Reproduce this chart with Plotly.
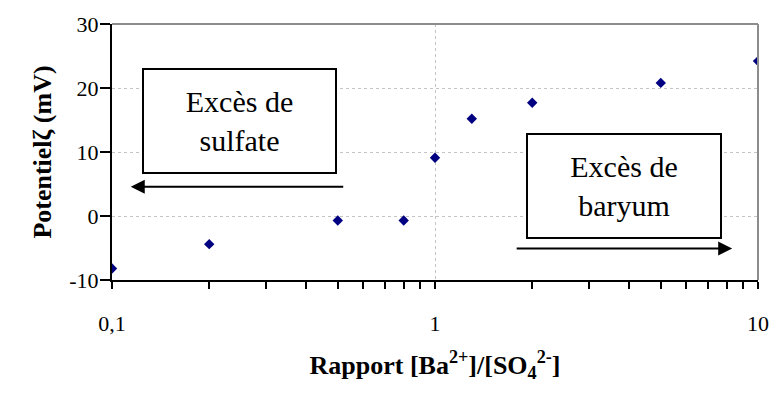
import plotly.graph_objects as go

# Zeta potential versus the barium / sulfate ratio
ratio = [0.1, 0.2, 0.5, 0.8, 1.0, 1.3, 2.0, 5.0, 10.0]
zeta_mv = [-8.2, -4.4, -0.7, -0.7, 9.1, 15.2, 17.7, 20.8, 24.2]

# Log-axis ticks: decades are labelled, the digits in between are minor ticks
x_major_vals = [0.1, 1, 10]
x_major_text = ["0,1", "1", "10"]
x_minor_vals = [0.2, 0.3, 0.4, 0.5, 0.6, 0.7, 0.8, 0.9,
                2, 3, 4, 5, 6, 7, 8, 9]
y_tick_vals = [-10, 0, 10, 20, 30]
y_tick_text = ["-10", "0", "10", "20", "30"]

FONT = "Liberation Serif"
NAVY = "#000080"

fig = go.Figure()
fig.add_trace(go.Scatter(
    x=ratio, y=zeta_mv, mode="markers",
    marker=dict(symbol="diamond", size=8, color=NAVY),
    showlegend=False,
))

fig.update_layout(
    width=781, height=394,
    margin=dict(l=112, r=14, t=19, b=114),
    paper_bgcolor="white", plot_bgcolor="white",
    xaxis=dict(
        type="log", range=[-1, 1],
        tickmode="array", tickvals=x_major_vals, ticktext=x_major_text,
        ticks="outside", ticklen=7, tickwidth=1.5, tickcolor="black",
        ticklabelstandoff=16,
        minor=dict(tickmode="array", tickvals=x_minor_vals,
                   ticks="outside", ticklen=7, tickwidth=1.5,
                   tickcolor="black", showgrid=False),
        showline=True, linewidth=2, linecolor="black",
        showgrid=True, gridcolor="#c4c4c4", griddash="dot",
        zeroline=False,
        tickfont=dict(family=FONT, size=22, color="black"),
        title=dict(
            text="<b>Rapport [Ba<sup>2+</sup>]/[SO<sub>4</sub><sup>2-</sup>]</b>",
            font=dict(family=FONT, size=26, color="black"),
            standoff=20,
        ),
    ),
    yaxis=dict(
        range=[-10, 30],
        tickmode="array", tickvals=y_tick_vals, ticktext=y_tick_text,
        ticks="outside", ticklen=10, tickwidth=1.5, tickcolor="black",
        ticklabelstandoff=-3,
        showline=True, linewidth=2, linecolor="black",
        showgrid=True, gridcolor="#c4c4c4", griddash="dot",
        zeroline=False,
        tickfont=dict(family=FONT, size=22, color="black"),
        title=dict(
            text="<b>Potentielζ (mV)</b>",
            font=dict(family=FONT, size=26, color="black"),
            standoff=10,
        ),
    ),
)

# grey plot-area border on the top and right sides
fig.add_shape(type="line", xref="paper", yref="paper",
              x0=0, x1=1, y0=1, y1=1, line=dict(color="#8c8c8c", width=2))
fig.add_shape(type="line", xref="paper", yref="paper",
              x0=1, x1=1, y0=0, y1=1, line=dict(color="#8c8c8c", width=2))

box_font = dict(family=FONT, size=30, color="black")

# labelled boxes
fig.add_annotation(xref="paper", yref="paper", x=0.198, y=0.621,
                   xanchor="center", yanchor="middle",
                   text="Excès de<br>sulfate", showarrow=False,
                   font=box_font, width=191, height=102, borderpad=0,
                   bordercolor="black", borderwidth=2, bgcolor="white")
fig.add_annotation(xref="paper", yref="paper", x=0.793, y=0.366,
                   xanchor="center", yanchor="middle",
                   text="Excès de<br>baryum", showarrow=False,
                   font=box_font, width=192, height=102, borderpad=0,
                   bordercolor="black", borderwidth=2, bgcolor="white")

# direction arrows
fig.add_annotation(xref="paper", yref="paper", x=0.029, y=0.364,
                   ax=214, ay=0, text="", showarrow=True,
                   arrowhead=2, arrowsize=1.4, arrowwidth=2,
                   arrowcolor="black", standoff=0)
fig.add_annotation(xref="paper", yref="paper", x=0.960, y=0.1226,
                   ax=-217, ay=0, text="", showarrow=True,
                   arrowhead=2, arrowsize=1.4, arrowwidth=2,
                   arrowcolor="black", standoff=0)

fig.write_html("out.html")
